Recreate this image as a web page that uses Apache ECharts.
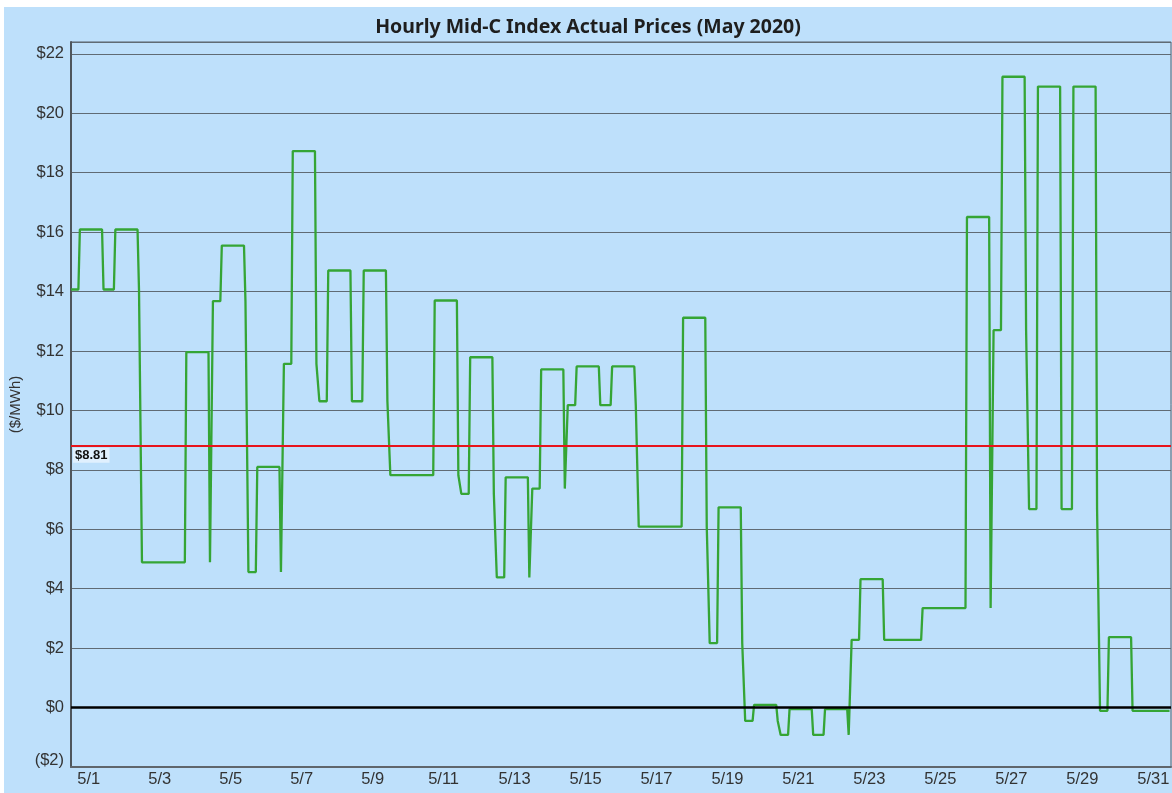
<!DOCTYPE html>
<html>
<head>
<meta charset="utf-8">
<script src="https://cdn.jsdelivr.net/npm/echarts@6/dist/echarts.min.js"></script>
<style>
  html, body { margin: 0; padding: 0; background: #ffffff; }
  #chart { position: absolute; left: 4px; top: 7px; width: 1168px; height: 786px; background: #bee0fb; }
</style>
</head>
<body>
<div id="chart"></div>
<script>
// Corner points of the hourly price line (hour of month, $/MWh)
const hours = [
  0, 5, 6, 21, 22, 29, 30, 45, 46, 47, 48, 77, 78, 93, 94, 95, 96, 101, 102, 117,
  118, 119, 120, 125, 126, 141, 142, 143, 144, 149, 150, 165, 166, 167, 168, 173, 174, 189, 190, 197,
  198, 213, 214, 215, 216, 245, 246, 261, 262, 263, 264, 269, 270, 285, 286, 287, 288, 293, 294, 309,
  310, 311, 312, 317, 318, 333, 334, 335, 336, 341, 342, 357, 358, 365, 366, 381, 382, 383, 384, 413,
  414, 429, 430, 431, 432, 437, 438, 453, 454, 455, 456, 461, 462, 477, 478, 479, 480, 485, 486, 501,
  502, 509, 510, 525, 526, 527, 528, 533, 534, 549, 550, 575, 576, 605, 606, 621, 622, 623, 624, 629,
  630, 645, 646, 647, 648, 653, 654, 669, 670, 677, 678, 693, 694, 695, 696, 701, 702, 717, 718, 743
];
const prices = [
  14.07, 14.07, 16.09, 16.09, 14.07, 14.07, 16.09, 16.09, 14.05, 14.05, 4.89, 4.89, 11.96, 11.96, 4.89, 4.89, 13.68, 13.68, 15.55, 15.55,
  13.68, 13.68, 4.56, 4.56, 8.10, 8.10, 4.56, 4.56, 11.57, 11.57, 18.73, 18.73, 11.57, 11.57, 10.31, 10.31, 14.71, 14.71, 10.31, 10.31,
  14.71, 14.71, 10.31, 10.31, 7.82, 7.82, 13.70, 13.70, 7.82, 7.82, 7.19, 7.19, 11.79, 11.79, 7.19, 7.19, 4.38, 4.38, 7.75, 7.75,
  4.38, 4.38, 7.37, 7.37, 11.38, 11.38, 7.37, 7.37, 10.18, 10.18, 11.48, 11.48, 10.18, 10.18, 11.48, 11.48, 10.18, 10.18, 6.09, 6.09,
  13.12, 13.12, 6.09, 6.09, 2.17, 2.17, 6.74, 6.74, 2.17, 2.17, -0.45, -0.45, 0.09, 0.09, -0.45, -0.45, -0.92, -0.92, -0.05, -0.05,
  -0.92, -0.92, -0.05, -0.05, -0.92, -0.92, 2.28, 2.28, 4.32, 4.32, 2.28, 2.28, 3.35, 3.35, 16.51, 16.51, 3.35, 3.35, 12.70, 12.70,
  21.23, 21.23, 12.70, 12.70, 6.68, 6.68, 20.90, 20.90, 6.68, 6.68, 20.90, 20.90, 6.68, 6.68, -0.11, -0.11, 2.37, 2.37, -0.11, -0.11
];
const dayLabels = [
  '5/1','5/2','5/3','5/4','5/5','5/6','5/7','5/8','5/9','5/10','5/11','5/12','5/13','5/14','5/15','5/16',
  '5/17','5/18','5/19','5/20','5/21','5/22','5/23','5/24','5/25','5/26','5/27','5/28','5/29','5/30','5/31'
];
const averagePrice = 8.81;
const titleText = 'Hourly Mid-C Index Actual Prices (May 2020)';
const yAxisTitle = '($/MWh)';

const chart = echarts.init(document.getElementById('chart'), null, { renderer: 'canvas' });
const option = {
  backgroundColor: '#bee0fb',
  animation: false,
  title: {
    text: titleText,
    left: 'center',
    top: 5,
    textStyle: { fontFamily: 'Noto Sans', fontWeight: 'bold', fontSize: 19.5, color: '#1e1e1e' }
  },
  grid: {
    left: 67, right: 1, top: 35, bottom: 26,
    containLabel: false, outerBoundsMode: 'none',
    show: true, borderColor: '#56606a', borderWidth: 1, backgroundColor: 'transparent'
  },
  xAxis: [
    {
      type: 'value', min: 0, max: 744, position: 'top', show: false
    },
    {
      type: 'category', data: dayLabels, position: 'bottom', boundaryGap: true,
      axisLine: { show: true, lineStyle: { color: '#5f666c', width: 2 } },
      axisTick: { show: false },
      splitLine: { show: false },
      axisLabel: { interval: 1, fontFamily: 'Liberation Sans', fontSize: 16.5, color: '#333333', margin: 4 }
    }
  ],
  yAxis: {
    type: 'value', min: -2, max: 22.4, interval: 2,
    name: yAxisTitle, nameLocation: 'middle', nameGap: 46, nameRotate: 90,
    nameTextStyle: { fontFamily: 'Liberation Sans', fontSize: 15, color: '#333333' },
    axisLine: { show: true, lineStyle: { color: '#4f565c', width: 2 } },
    axisTick: { show: false },
    splitLine: { show: true, lineStyle: { color: '#606b74', width: 1 } },
    axisLabel: {
      fontFamily: 'Liberation Sans', fontSize: 16.5, color: '#333333', margin: 7,
      formatter: v => v < 0 ? '{m|($' + Math.abs(v) + ')}' : '$' + v,
      rich: { m: { fontFamily: 'Liberation Sans', fontSize: 16.5, color: '#333333', padding: [0, 0, 14, 0] } }
    }
  },
  series: [
    {
      type: 'line',
      xAxisIndex: 0,
      data: hours.map((h, i) => [h, prices[i]]),
      showSymbol: false,
      symbol: 'none',
      lineStyle: { color: '#35a535', width: 2.3 },
      z: 3,
      markLine: {
        symbol: 'none',
        silent: true,
        data: [
          {
            yAxis: averagePrice,
            lineStyle: { color: '#e8141b', width: 2, type: 'solid' },
            label: {
              show: true, position: 'insideStartBottom', formatter: '$8.81',
              fontFamily: 'Liberation Sans', fontWeight: 'bold', fontSize: 13, color: '#111111',
              backgroundColor: 'rgba(235,245,255,0.75)', padding: [1, 2], distance: 2
            }
          },
          {
            yAxis: 0,
            lineStyle: { color: '#000000', width: 2.5, type: 'solid' },
            label: { show: false }
          }
        ]
      }
    }
  ]
};
chart.setOption(option);
</script>
</body>
</html>
